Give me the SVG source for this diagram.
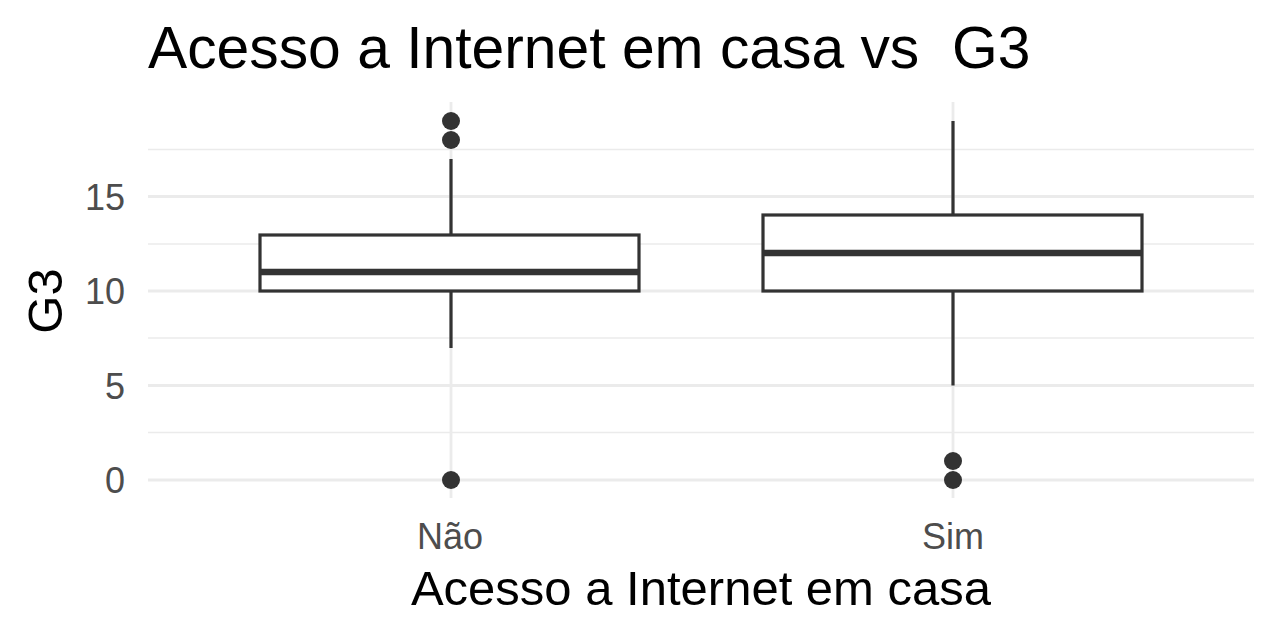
<svg xmlns="http://www.w3.org/2000/svg" width="1280" height="640" viewBox="0 0 1280 640">
<style>
.major{stroke:#EBEBEB;stroke-width:2.8}
.minor{stroke:#EBEBEB;stroke-width:1.4}
.box{fill:#FFFFFF;stroke:#333333;stroke-width:3.2}
.med{stroke:#333333;stroke-width:6.4}
.wh{stroke:#333333;stroke-width:3.2}
.pt{fill:#333333}
.tick{font-family:"Liberation Sans",Arial,sans-serif;font-size:36px;fill:#4D4D4D}
.axt{font-family:"Liberation Sans",Arial,sans-serif;font-size:49px;fill:#000000}
.ttl{font-family:"Liberation Sans",Arial,sans-serif;font-size:58.8px;fill:#000000;white-space:pre}
</style>
<rect width="1280" height="640" fill="#FFFFFF"/>
<g id="grid">
<line class="minor" x1="148" y1="432.5" x2="1254" y2="432.5"/>
<line class="minor" x1="148" y1="338" x2="1254" y2="338"/>
<line class="minor" x1="148" y1="244" x2="1254" y2="244"/>
<line class="minor" x1="148" y1="149.5" x2="1254" y2="149.5"/>
<line class="major" x1="148" y1="480" x2="1254" y2="480"/>
<line class="major" x1="148" y1="385.5" x2="1254" y2="385.5"/>
<line class="major" x1="148" y1="291" x2="1254" y2="291"/>
<line class="major" x1="148" y1="196.5" x2="1254" y2="196.5"/>
<line class="major" x1="451" y1="102" x2="451" y2="498"/>
<line class="major" x1="953" y1="102" x2="953" y2="498"/>
</g>
<g id="box-nao">
<line class="wh" x1="451" y1="159" x2="451" y2="235"/>
<line class="wh" x1="451" y1="291" x2="451" y2="348"/>
<rect class="box" x="260" y="235" width="379" height="56"/>
<line class="med" x1="260" y1="272" x2="639" y2="272"/>
<circle class="pt" cx="451" cy="121" r="9"/>
<circle class="pt" cx="451" cy="140" r="9"/>
<circle class="pt" cx="451" cy="480" r="9"/>
</g>
<g id="box-sim">
<line class="wh" x1="953" y1="121" x2="953" y2="215"/>
<line class="wh" x1="953" y1="291" x2="953" y2="385.5"/>
<rect class="box" x="763" y="215" width="379" height="76"/>
<line class="med" x1="763" y1="253" x2="1142" y2="253"/>
<circle class="pt" cx="953" cy="461" r="9"/>
<circle class="pt" cx="953" cy="480" r="9"/>
</g>
<g id="axes">
<text class="tick" x="125" y="493" text-anchor="end">0</text>
<text class="tick" x="125" y="398.5" text-anchor="end">5</text>
<text class="tick" x="125" y="304" text-anchor="end">10</text>
<text class="tick" x="125" y="209.5" text-anchor="end">15</text>
<text class="tick" x="450" y="549" text-anchor="middle">Não</text>
<text class="tick" x="953" y="549" text-anchor="middle">Sim</text>
<text class="axt" x="701" y="605" text-anchor="middle">Acesso a Internet em casa</text>
<text class="axt" transform="translate(62,301) rotate(-90)" text-anchor="middle">G3</text>
</g>
<text class="ttl" x="148" y="68" xml:space="preserve">Acesso a Internet em casa vs  G3</text>
</svg>
